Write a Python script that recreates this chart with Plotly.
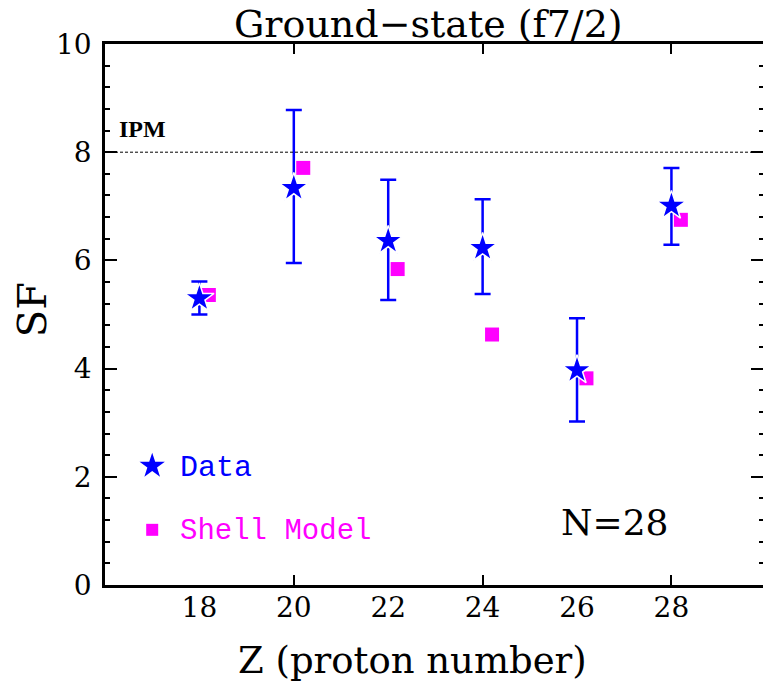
import plotly.graph_objects as go

# ---- data ----
z_data = [18, 20, 22, 24, 26, 28]
sf_data = [5.30, 7.34, 6.36, 6.23, 3.97, 7.01]
sf_upper = [5.61, 8.78, 7.49, 7.13, 4.93, 7.71]
sf_lower = [5.00, 5.95, 5.27, 5.38, 3.02, 6.29]

z_model = [18.2, 20.2, 22.2, 24.2, 26.2, 28.2]
sf_model = [5.36, 7.71, 5.84, 4.63, 3.82, 6.75]

x_ticks = [18, 20, 22, 24, 26, 28]
x_major_marks = [20, 24, 28]
y_ticks = [0, 2, 4, 6, 8, 10]
ipm_value = 8

# legend key positions (data coords)
legend_z = 17.0
legend_data_sf = 2.2
legend_model_sf = 1.02

BLUE = "#0000FF"
MAGENTA = "#FF00FF"
SERIF = "DejaVu Serif"
MONO = "Liberation Mono"

err_plus = [u - v for u, v in zip(sf_upper, sf_data)]
err_minus = [v - l for v, l in zip(sf_data, sf_lower)]

X_RANGE = [16, 29.94]
Y_RANGE = [0, 10]

fig = go.Figure()

fig.add_trace(go.Scatter(
    x=z_model, y=sf_model, mode="markers",
    marker=dict(symbol="square", size=14, color=MAGENTA, line=dict(width=0)),
    showlegend=False, cliponaxis=False))

fig.add_trace(go.Scatter(
    x=z_data, y=sf_data, mode="markers",
    marker=dict(symbol="star", size=22, color=BLUE, line=dict(width=1.5, color="white")),
    error_y=dict(type="data", symmetric=False, array=err_plus, arrayminus=err_minus,
                 color=BLUE, thickness=2.5, width=8),
    showlegend=False, cliponaxis=False))

# legend keys
fig.add_trace(go.Scatter(
    x=[legend_z], y=[legend_data_sf], mode="markers",
    marker=dict(symbol="star", size=19, color=BLUE), showlegend=False))
fig.add_trace(go.Scatter(
    x=[legend_z], y=[legend_model_sf], mode="markers",
    marker=dict(symbol="square", size=12, color=MAGENTA), showlegend=False))

# dummy trace for overlay axes
fig.add_trace(go.Scatter(x=[], y=[], xaxis="x2", yaxis="y2", showlegend=False))

# IPM dashed line
fig.add_shape(type="line", xref="paper", x0=0, x1=1, yref="y", y0=ipm_value, y1=ipm_value,
              line=dict(color="black", width=1, dash="3px,2px"))

fig.add_annotation(x=16.26, y=8.42, xref="x", yref="y", text="<b>IPM</b>", showarrow=False,
                   xanchor="left", yanchor="middle",
                   font=dict(family="Liberation Serif", size=24, color="black"))

fig.add_annotation(x=17.55, y=legend_data_sf - 0.04, xref="x", yref="y", text="Data", showarrow=False,
                   xanchor="left", yanchor="middle", font=dict(family=MONO, size=30, color=BLUE))
fig.add_annotation(x=17.55, y=legend_model_sf - 0.04, xref="x", yref="y", text="Shell Model", showarrow=False,
                   xanchor="left", yanchor="middle", font=dict(family=MONO, size=29, color=MAGENTA))

fig.add_annotation(x=26.8, y=1.15, xref="x", yref="y", text="N=28", showarrow=False,
                   xanchor="center", yanchor="middle", font=dict(family=SERIF, size=36, color="black"))

# title
fig.add_annotation(x=0.491, y=1, xref="paper", yref="paper", yanchor="middle", yshift=20,
                   text="Ground\u2212state (f7/2)", showarrow=False,
                   font=dict(family=SERIF, size=38, color="black"))
# x title
fig.add_annotation(x=0.467, y=0, xref="paper", yref="paper", yanchor="middle", yshift=-75,
                   text="Z (proton number)", showarrow=False,
                   font=dict(family=SERIF, size=37, color="black"))
# y title
fig.add_annotation(x=0, y=0.508, xref="paper", yref="paper", xanchor="center", yanchor="middle",
                   xshift=-73, textangle=-90, text="SF", showarrow=False,
                   font=dict(family=SERIF, size=40, color="black"))

axis_line = dict(showline=True, linecolor="black", linewidth=2.5)

fig.update_layout(
    width=763, height=681,
    margin=dict(l=105, r=0, t=44, b=96),
    paper_bgcolor="white", plot_bgcolor="white",
    showlegend=False,
    xaxis=dict(range=X_RANGE, tickvals=x_ticks, ticktext=[str(v) for v in x_ticks],
               ticks="", showgrid=False, zeroline=False, mirror=True, **axis_line,
               tickfont=dict(family=SERIF, size=28, color="black"), ticklabelstandoff=-4),
    xaxis2=dict(range=X_RANGE, overlaying="x", side="bottom", tickvals=x_major_marks,
                ticks="inside", ticklen=10, tickwidth=2, tickcolor="black",
                showticklabels=False, showgrid=False, zeroline=False,
                showline=False, mirror="ticks"),
    yaxis=dict(range=Y_RANGE, tickvals=y_ticks, ticks="inside", ticklen=12, tickwidth=2,
               tickcolor="black", showgrid=False, zeroline=False, mirror=False, **axis_line,
               minor=dict(dtick=0.4, tick0=0, ticks="inside", ticklen=5, tickwidth=2, tickcolor="black",
                          showgrid=False),
               tickfont=dict(family=SERIF, size=28, color="black"), ticklabelstandoff=5),
    yaxis2=dict(range=Y_RANGE, overlaying="y", side="right", tickvals=y_ticks,
                ticks="inside", ticklen=12, tickwidth=2, tickcolor="black",
                showticklabels=False, showgrid=False, zeroline=False, showline=False,
                minor=dict(dtick=0.4, tick0=0, ticks="inside", ticklen=4, tickwidth=2, tickcolor="black",
                           showgrid=False)),
)

fig.write_html("out.html")
